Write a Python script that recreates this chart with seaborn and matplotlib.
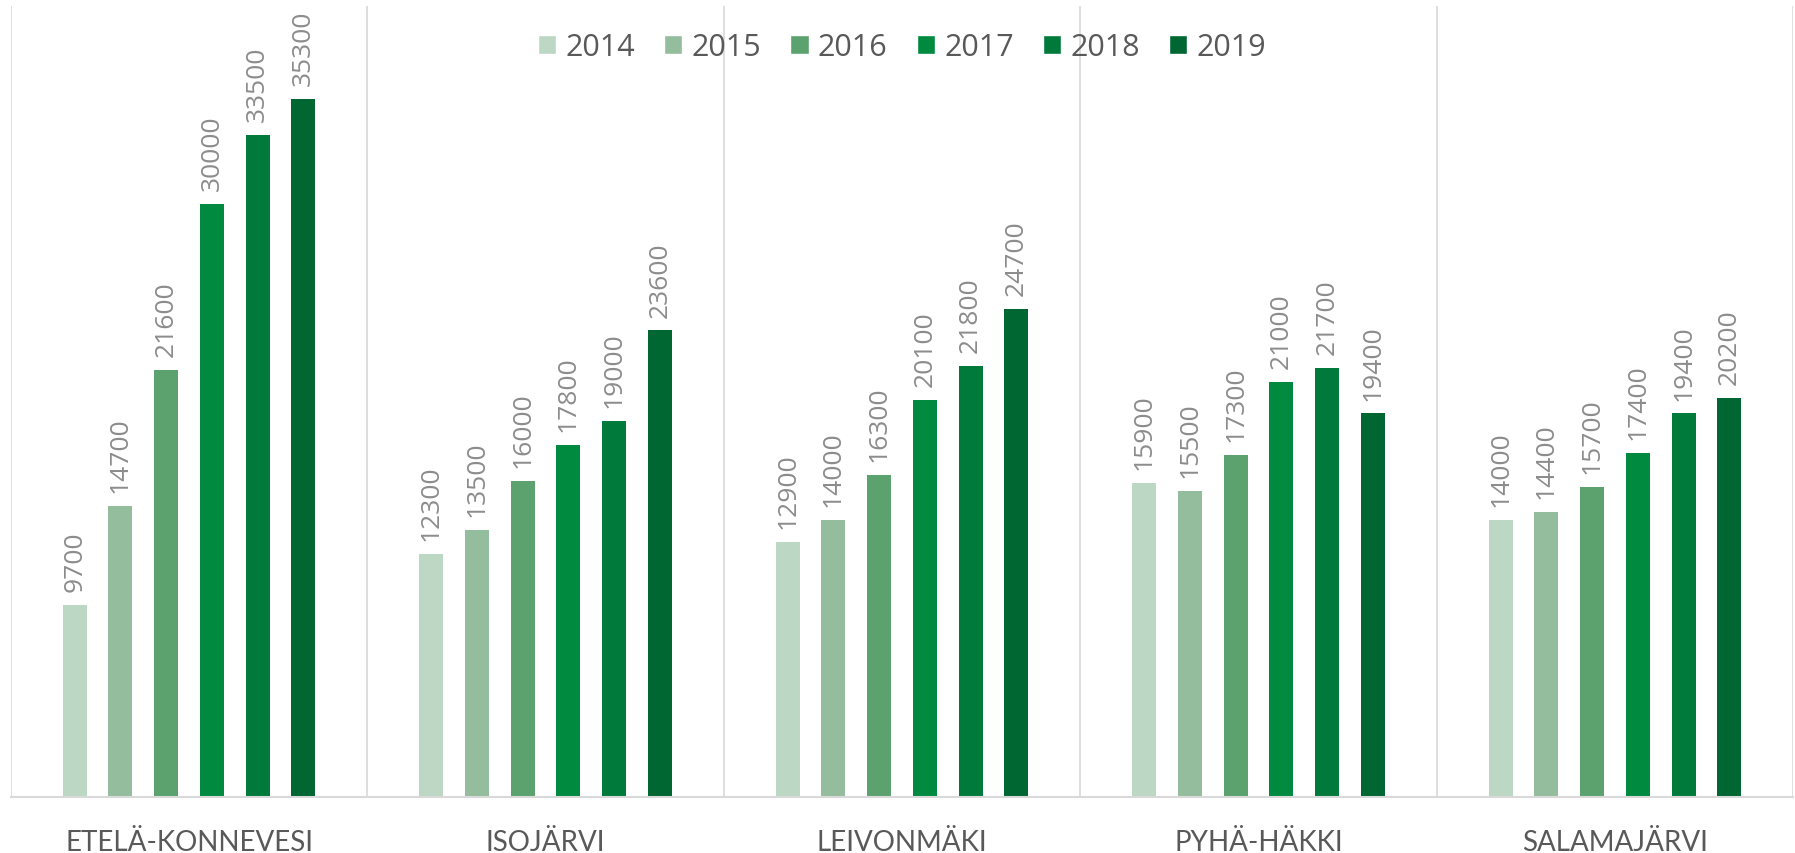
import pandas as pd
import matplotlib
matplotlib.use("Agg")
import matplotlib.pyplot as plt
import seaborn as sns

# --- data ---
areas = ["ETELÄ-KONNEVESI", "ISOJÄRVI", "LEIVONMÄKI", "PYHÄ-HÄKKI", "SALAMAJÄRVI"]
years = ["2014", "2015", "2016", "2017", "2018", "2019"]
v2014 = [9700, 12300, 12900, 15900, 14000]
v2015 = [14700, 13500, 14000, 15500, 14400]
v2016 = [21600, 16000, 16300, 17300, 15700]
v2017 = [30000, 17800, 20100, 21000, 17400]
v2018 = [33500, 19000, 21800, 21700, 19400]
v2019 = [35300, 23600, 24700, 19400, 20200]
colors = ["#BDD7C5", "#93BD9D", "#5BA26F", "#008A40", "#007A3B", "#006632"]

series = [v2014, v2015, v2016, v2017, v2018, v2019]
rows = []
for y, vals in zip(years, series):
    for a, v in zip(areas, vals):
        rows.append({"area": a, "year": y, "value": v})
df = pd.DataFrame(rows)

sns.set_theme(style="white")
plt.rcParams["font.family"] = ["Open Sans", "DejaVu Sans"]

fig = plt.figure(figsize=(17.95, 8.54), dpi=100)
ax = fig.add_axes([0.006, 0.0656, 0.993, 0.926])

sns.barplot(data=df, x="area", y="value", hue="year", order=areas,
            hue_order=years, palette=colors, width=0.77, saturation=1,
            ax=ax, legend=True)

# narrow bars, keep centers
bar_w = 0.0675
for p in ax.patches:
    if p.get_height() == 0 and p.get_width() == 0:
        continue
    c = p.get_x() + p.get_width() / 2
    p.set_width(bar_w)
    p.set_x(c - bar_w / 2)
    p.set_edgecolor("none")

# value labels
for cont in ax.containers:
    for p in cont:
        h = p.get_height()
        ax.annotate(f"{int(h)}", (p.get_x() + p.get_width() / 2, h),
                    xytext=(0, 10), textcoords="offset points",
                    rotation=90, ha="center", va="bottom",
                    fontsize=19, color="#8C8C8C")

ax.set_ylim(0, 40000)
ax.set_xlim(-0.5, len(areas) - 0.5)
ax.set_yticks([])
ax.set_xlabel("")
ax.set_ylabel("")

# category dividers
for xb in [i - 0.5 for i in range(len(areas) + 1)]:
    ax.axvline(xb, color="#D9D9D9", lw=1.2, zorder=0)

for s in ["top", "left", "right"]:
    ax.spines[s].set_visible(False)
ax.spines["bottom"].set_color("#D9D9D9")
ax.spines["bottom"].set_linewidth(1.5)

ax.tick_params(axis="x", length=0, pad=38, labelsize=20, labelcolor="#595959")
for lbl in ax.get_xticklabels():
    lbl.set_fontfamily(["Lato", "DejaVu Sans"])
    lbl.set_va("baseline")

leg = ax.legend(loc="center", bbox_to_anchor=(0.5, 0.948), ncol=6,
                frameon=False, fontsize=22, handlelength=0.6,
                handleheight=0.6, handletextpad=0.3, columnspacing=0.95,
                labelcolor="#595959")

fig.savefig("out.png", dpi=100, facecolor="white")
